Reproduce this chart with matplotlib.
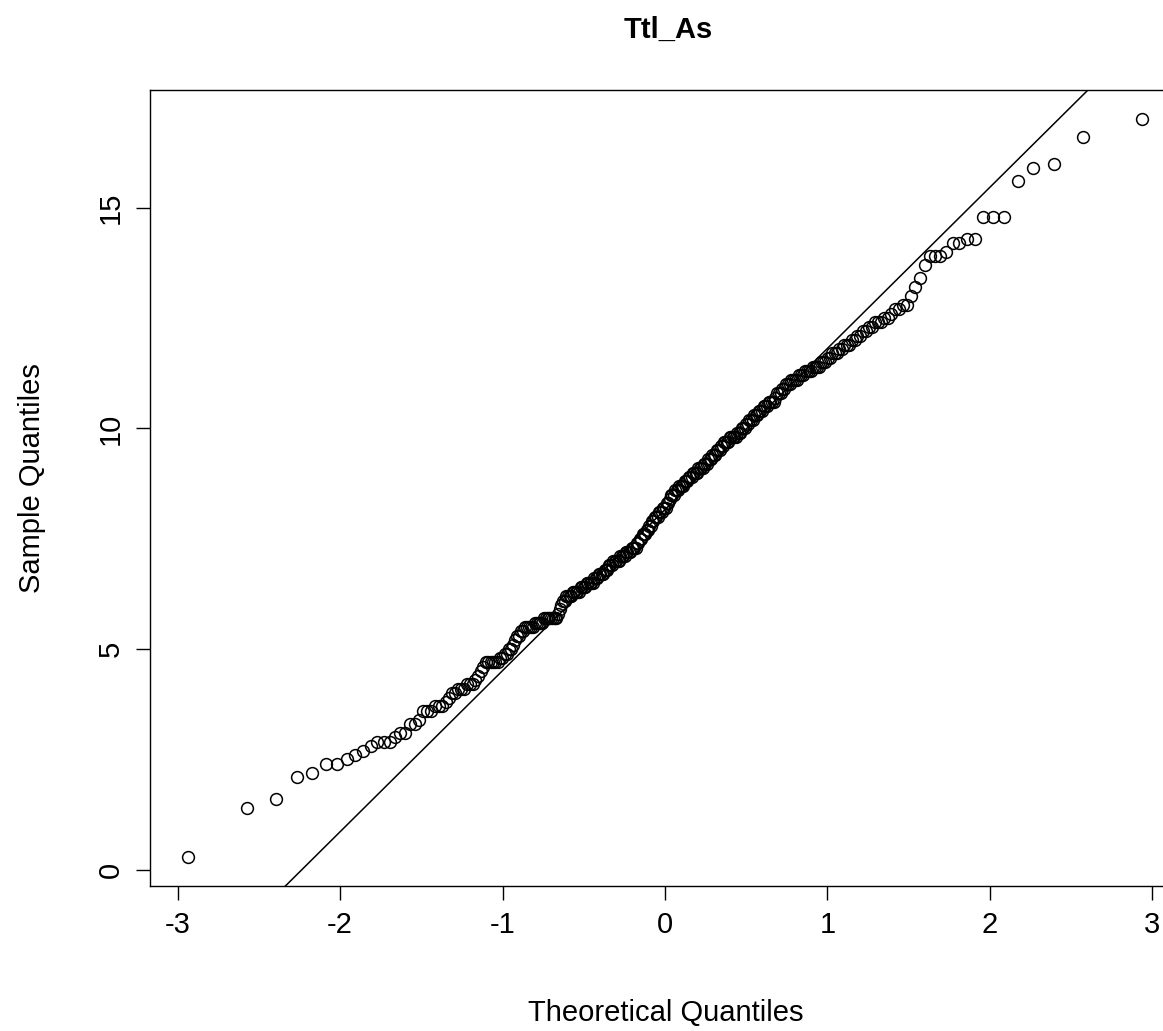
import numpy as np
import matplotlib
matplotlib.use("Agg")
import matplotlib.pyplot as plt
from statistics import NormalDist

title = "Ttl_As"
xlabel = "Theoretical Quantiles"
ylabel = "Sample Quantiles"
xticks = [-3, -2, -1, 0, 1, 2, 3]
yticks = [0, 5, 10, 15]

# sorted sample values (Ttl_As)
sample = [
    0.3, 1.4, 1.6, 2.1, 2.2, 2.4, 2.4, 2.5, 2.6, 2.7,
    2.8, 2.9, 2.9, 2.9, 3.0, 3.1, 3.1, 3.3, 3.3, 3.4,
    3.6, 3.6, 3.6, 3.7, 3.7, 3.7, 3.8, 3.9, 4.0, 4.0,
    4.1, 4.1, 4.1, 4.2, 4.2, 4.2, 4.3, 4.4, 4.5, 4.6,
    4.7, 4.7, 4.7, 4.7, 4.7, 4.7, 4.8, 4.8, 4.9, 4.9,
    5.0, 5.0, 5.1, 5.2, 5.3, 5.3, 5.4, 5.4, 5.5, 5.5,
    5.5, 5.5, 5.5, 5.6, 5.6, 5.6, 5.6, 5.6, 5.7, 5.7,
    5.7, 5.7, 5.7, 5.7, 5.7, 5.7, 5.8, 5.9, 6.0, 6.1,
    6.1, 6.2, 6.2, 6.2, 6.2, 6.3, 6.3, 6.3, 6.3, 6.3,
    6.4, 6.4, 6.4, 6.4, 6.5, 6.5, 6.5, 6.5, 6.5, 6.6,
    6.6, 6.6, 6.7, 6.7, 6.7, 6.7, 6.8, 6.8, 6.8, 6.9,
    6.9, 6.9, 7.0, 7.0, 7.0, 7.0, 7.0, 7.1, 7.1, 7.1,
    7.1, 7.2, 7.2, 7.2, 7.2, 7.3, 7.3, 7.3, 7.3, 7.4,
    7.4, 7.5, 7.5, 7.6, 7.6, 7.6, 7.7, 7.7, 7.8, 7.8,
    7.9, 7.9, 8.0, 8.0, 8.0, 8.1, 8.1, 8.1, 8.2, 8.2,
    8.2, 8.3, 8.3, 8.4, 8.5, 8.5, 8.5, 8.6, 8.6, 8.6,
    8.7, 8.7, 8.7, 8.7, 8.8, 8.8, 8.8, 8.9, 8.9, 8.9,
    9.0, 9.0, 9.0, 9.0, 9.1, 9.1, 9.1, 9.1, 9.2, 9.2,
    9.2, 9.3, 9.3, 9.3, 9.4, 9.4, 9.4, 9.5, 9.5, 9.5,
    9.6, 9.6, 9.7, 9.7, 9.7, 9.7, 9.8, 9.8, 9.8, 9.8,
    9.8, 9.9, 9.9, 9.9, 10.0, 10.0, 10.0, 10.1, 10.1, 10.2,
    10.2, 10.2, 10.3, 10.3, 10.3, 10.4, 10.4, 10.4, 10.5, 10.5,
    10.5, 10.6, 10.6, 10.6, 10.6, 10.7, 10.8, 10.8, 10.8, 10.9,
    10.9, 11.0, 11.0, 11.0, 11.1, 11.1, 11.1, 11.1, 11.2, 11.2,
    11.2, 11.3, 11.3, 11.3, 11.3, 11.4, 11.4, 11.4, 11.4, 11.5,
    11.5, 11.5, 11.6, 11.6, 11.7, 11.7, 11.7, 11.8, 11.8, 11.9,
    11.9, 11.9, 12.0, 12.0, 12.1, 12.1, 12.2, 12.2, 12.3, 12.3,
    12.4, 12.4, 12.4, 12.5, 12.5, 12.6, 12.7, 12.7, 12.8, 12.8,
    13.0, 13.2, 13.4, 13.7, 13.9, 13.9, 13.9, 14.0, 14.2, 14.2,
    14.3, 14.3, 14.8, 14.8, 14.8, 15.6, 15.9, 16.0, 16.6, 17.0,
]

plt.rcParams['font.family'] = ['Liberation Sans', 'DejaVu Sans']

y = np.sort(np.array(sample))
n = len(y)
nd = NormalDist()
a = 0.5 if n > 10 else 3.0 / 8
probs = [(i + 1 - a) / (n + 1 - 2 * a) for i in range(n)]
x = np.array([nd.inv_cdf(p) for p in probs])

# qqline through the quartiles
yq = np.percentile(y, [25, 75])
xq = np.array([nd.inv_cdf(0.25), nd.inv_cdf(0.75)])
slope = (yq[1] - yq[0]) / (xq[1] - xq[0])
intercept = yq[0] - slope * xq[0]

W, H = 1163, 1031
fig = plt.figure(figsize=(W / 100, H / 100), dpi=100)
left_px, right_px, top_px, bottom_px = 150, 1180, 90, 886
ax = fig.add_axes([left_px / W, 1 - bottom_px / H,
                   (right_px - left_px) / W, (bottom_px - top_px) / H])

ax.plot(x, y, linestyle='none', marker='o', markersize=8.5,
        markerfacecolor='none', markeredgecolor='black', markeredgewidth=1.1)

xr = x.max() - x.min()
yr = y.max() - y.min()
xlim = (x.min() - 0.04 * xr, x.max() + 0.04 * xr)
ylim = (y.min() - 0.04 * yr, y.max() + 0.04 * yr)
xx = np.array(xlim)
ax.plot(xx, intercept + slope * xx, color='black', linewidth=1.1)
ax.set_xlim(xlim)
ax.set_ylim(ylim)

ax.set_xticks(xticks)
ax.set_yticks(yticks)
ax.set_xticklabels([str(t) for t in xticks])
ax.set_yticklabels([str(t) for t in yticks], rotation=90, va='center')
ax.tick_params(direction='out', length=10, width=1.0, labelsize=21, pad=8, color='black')
for s in ax.spines.values():
    s.set_linewidth(1.0)
    s.set_color('black')

fig.text(668 / W, 1 - 30 / H, title, ha='center', va='center',
         fontsize=21, fontweight='bold')
fig.text(666 / W, 1 - 1013 / H, xlabel, ha='center', va='center', fontsize=21)
fig.text(32 / W, 1 - 478 / H, ylabel, ha='center', va='center', fontsize=21, rotation=90)

fig.savefig("out.png", dpi=100)
